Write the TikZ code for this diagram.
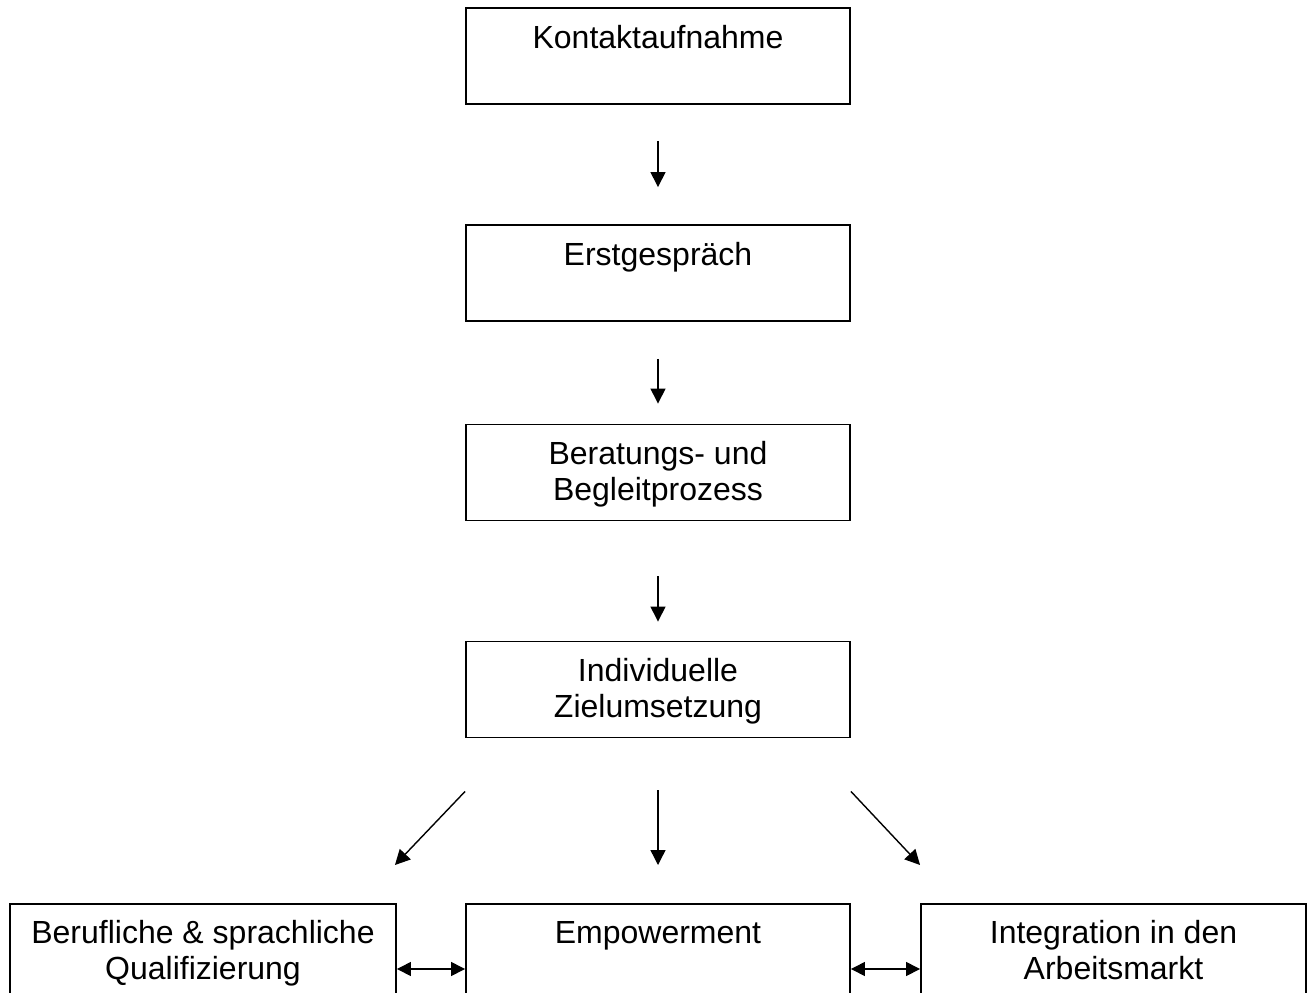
\documentclass[tikz,border=0pt]{standalone}
\usepackage{fontspec}
\setmainfont{Liberation Sans}
\usetikzlibrary{arrows.meta,calc}
\newcommand{\boxtext}[2]{\parbox[t][96pt][t]{#1}{\centering\fontsize{32}{36}\selectfont\rule{0pt}{40pt}#2}}
\newcommand{\lowtext}[2]{\parbox[t][140pt][t]{#1}{\centering\fontsize{32}{36}\selectfont\rule{0pt}{40pt}#2}}
\tikzset{
  stepbox/.style={draw, line width=1.9pt, inner sep=0pt, minimum width=384pt, minimum height=96pt, rectangle},
  bottombox/.style={draw, line width=1.9pt, inner sep=0pt, minimum height=140pt, rectangle, anchor=north},
  flow/.style={line width=1.4pt, -{Triangle[width=15pt,length=15pt]}},
  both/.style={line width=1.4pt, {Triangle[width=14pt,length=14pt]}-{Triangle[width=14pt,length=14pt]}}
}
\begin{document}
\begin{tikzpicture}[x=1pt,y=-1pt]
\path[use as bounding box, clip] (0,0) rectangle (1310,993);
\node[stepbox] (k) at (658,56) {\boxtext{380pt}{Kontaktaufnahme}};
\node[stepbox] (e) at (658,273) {\boxtext{380pt}{Erstgespräch}};
\node[stepbox] (b) at (658,472.5) {\boxtext{380pt}{Beratungs- und\\Begleitprozess}};
\node[stepbox] (i) at (658,689.5) {\boxtext{380pt}{Individuelle\\Zielumsetzung}};
\node[bottombox, minimum width=386pt] (q) at (203,903) {\lowtext{382pt}{Berufliche \& sprachliche\\Qualifizierung}};
\node[bottombox, minimum width=384pt] (m) at (658,903) {\lowtext{380pt}{Empowerment}};
\node[bottombox, minimum width=385pt] (a) at (1113.5,903) {\lowtext{381pt}{Integration in den\\Arbeitsmarkt}};
% vertical flow arrows
\draw[flow, shorten <=36pt, shorten >=37pt] (k.south) -- (e.north);
\draw[flow, shorten <=37pt, shorten >=20pt] (e.south) -- (b.north);
\draw[flow, shorten <=55pt, shorten >=19pt] (b.south) -- (i.north);
\draw[flow, shorten <=52pt, shorten >=38pt] (i.south) -- (m.north);
% diagonal arrows
\coordinate (dls) at ($(i.south west)+(0,53)$);
\coordinate (dle) at ($(q.north east)+(-2,-38)$);
\coordinate (drs) at ($(i.south east)+(0,53)$);
\coordinate (dre) at ($(a.north west)+(0,-38)$);
\draw[flow] (dls) -- (dle);
\draw[flow] (drs) -- (dre);
% double arrows
\draw[both] ($(q.north east)+(0,66)$) -- ($(m.north west)+(0,66)$);
\draw[both] ($(m.north east)+(0,66)$) -- ($(a.north west)+(0,66)$);
\end{tikzpicture}
\end{document}
